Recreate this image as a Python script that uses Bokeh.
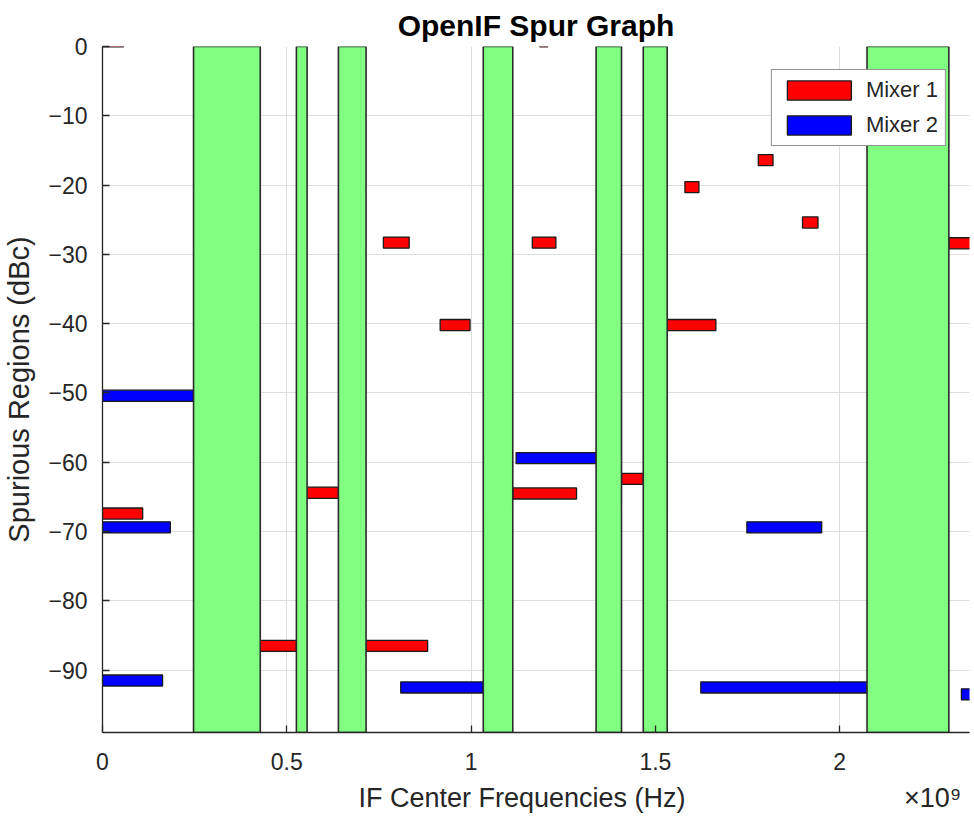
from bokeh.plotting import figure
from bokeh.models import (Range1d, FixedTicker, CustomJSTickFormatter, Legend, LegendItem,
                          LinearAxis, ColumnDataSource)
from bokeh.embed import file_html
from bokeh.resources import INLINE

# ---------------- data ----------------
# Mixer 1 spurs: start / stop frequency (Hz) and level (dBc)
m1_start = [0.000e9, 0.428e9, 0.555e9, 0.715e9, 0.762e9, 0.916e9, 1.113e9, 1.166e9,
            1.408e9, 1.532e9, 1.580e9, 1.779e9, 1.899e9, 2.296e9, 0.000e9, 1.186e9]
m1_stop = [0.109e9, 0.526e9, 0.640e9, 0.882e9, 0.832e9, 0.997e9, 1.286e9, 1.230e9,
           1.467e9, 1.664e9, 1.618e9, 1.819e9, 1.941e9, 2.400e9, 0.057e9, 1.208e9]
m1_dbc = [-67.4, -86.5, -64.4, -86.5, -28.3, -40.2, -64.5, -28.3,
          -62.4, -40.2, -20.3, -16.4, -25.4, -28.4, 0.75, 0.75]

# Mixer 2 spurs
m2_start = [0.000e9, 0.000e9, 0.000e9, 0.809e9, 1.122e9, 1.748e9, 1.623e9, 2.330e9]
m2_stop = [0.247e9, 0.184e9, 0.163e9, 1.033e9, 1.339e9, 1.951e9, 2.074e9, 2.400e9]
m2_dbc = [-50.4, -69.4, -91.5, -92.5, -59.4, -69.4, -92.5, -93.5]

# Spur-free (allowed) IF regions
free_start = [0.247e9, 0.526e9, 0.640e9, 1.033e9, 1.339e9, 1.467e9, 2.074e9]
free_stop = [0.428e9, 0.555e9, 0.715e9, 1.113e9, 1.408e9, 1.532e9, 2.296e9]

bar_h = 1.6
x_ticks = [0, 0.5e9, 1.0e9, 1.5e9, 2.0e9]
y_ticks = [-90, -80, -70, -60, -50, -40, -30, -20, -10, 0]
x_max = 2.352e9
y_min = -99

x_label = "IF Center Frequencies (Hz)"
x_exponent = "\u00d710\u2079"
x_label_pos = 1.138e9
x_exponent_pos = 2.252e9

TXT = "#262626"
FONT = "Liberation Sans"

p = figure(width=972, height=817, output_backend="svg", toolbar_location=None,
           x_range=Range1d(0, x_max), y_range=Range1d(y_min, 0),
           min_border_left=101, min_border_right=3, min_border_top=46, min_border_bottom=85)
p.outline_line_color = None
p.background_fill_color = "white"

p.title.text = "OpenIF Spur Graph"
p.title.align = "center"
p.title.text_font = FONT
p.title.text_font_size = "30px"
p.title.text_font_style = "bold"
p.title.text_color = "black"
p.title.standoff = 9

# spur bars
s1 = ColumnDataSource(dict(l=m1_start, r=m1_stop,
                           b=[v - bar_h / 2 for v in m1_dbc], t=[v + bar_h / 2 for v in m1_dbc]))
s2 = ColumnDataSource(dict(l=m2_start, r=m2_stop,
                           b=[v - bar_h / 2 for v in m2_dbc], t=[v + bar_h / 2 for v in m2_dbc]))
r1 = p.quad(left="l", right="r", bottom="b", top="t", source=s1,
            fill_color="#ff0000", line_color="#1a1a1a", line_width=1.3)
r2 = p.quad(left="l", right="r", bottom="b", top="t", source=s2,
            fill_color="#0000ff", line_color="#1a1a1a", line_width=1.3)

# free regions
sf = ColumnDataSource(dict(l=free_start, r=free_stop,
                           b=[y_min] * len(free_start), t=[0] * len(free_start)))
p.quad(left="l", right="r", bottom="b", top="t", source=sf,
       fill_color="#80ff80", line_color="#2a2a2a", line_width=1.6)

# axes
p.xaxis.ticker = FixedTicker(ticks=x_ticks)
p.xaxis.formatter = CustomJSTickFormatter(code="return (tick/1e9).toString();")
p.yaxis.ticker = FixedTicker(ticks=y_ticks)
for ax in (p.xaxis[0], p.yaxis[0]):
    ax.major_tick_in = 7
    ax.major_tick_out = 0
    ax.minor_tick_in = 0
    ax.minor_tick_out = 0
    ax.axis_line_color = TXT
    ax.axis_line_width = 1.3
    ax.major_tick_line_color = TXT
    ax.major_tick_line_width = 1.3
    ax.major_label_text_font = FONT
    ax.major_label_text_font_size = "23px"
    ax.major_label_text_color = TXT
    ax.axis_label_text_font = FONT
    ax.axis_label_text_font_style = "normal"
    ax.axis_label_text_color = TXT
p.yaxis.axis_label = "Spurious Regions (dBc)"
p.yaxis.axis_label_text_font_size = "29px"
p.xaxis.major_label_standoff = 20
p.yaxis.major_label_standoff = 15
p.yaxis.axis_label_standoff = 10

# second (text-only) axis carrying the x label and the x10^9 exponent
ax2 = LinearAxis(ticker=FixedTicker(ticks=[x_label_pos, x_exponent_pos]),
                 formatter=CustomJSTickFormatter(
                     args=dict(lab=x_label, expo=x_exponent, cut=2.0e9),
                     code="return tick < cut ? lab : expo;"),
                 axis_line_color=None, major_tick_line_color=None, minor_tick_line_color=None,
                 major_label_text_font=FONT, major_label_text_font_size="27px",
                 major_label_text_color=TXT, major_label_standoff=4)
p.add_layout(ax2, "below")

p.xgrid.ticker = FixedTicker(ticks=x_ticks)
p.ygrid.ticker = FixedTicker(ticks=y_ticks)
p.grid.grid_line_color = "#dedede"
p.grid.grid_line_width = 1

legend = Legend(items=[LegendItem(label="Mixer 1", renderers=[r1]),
                       LegendItem(label="Mixer 2", renderers=[r2])],
                location="top_right", margin=23, padding=7, spacing=9,
                glyph_width=80, glyph_height=24, label_height=24, label_standoff=7,
                label_text_font=FONT, label_text_font_size="22px", label_text_color=TXT,
                border_line_color=TXT, border_line_width=1.2, background_fill_alpha=1)
p.add_layout(legend)

open("out.html", "w").write(file_html(p, INLINE))
